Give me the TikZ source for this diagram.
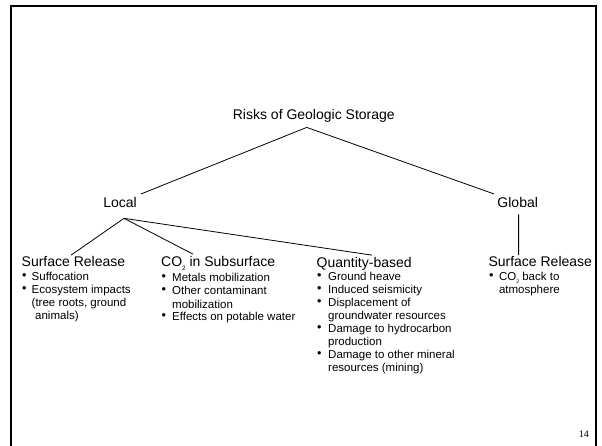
\documentclass[tikz,border=0pt]{standalone}
\usepackage{graphicx}
\usepackage{fontspec}
\setmainfont{Liberation Sans}
\newfontfamily\pagenumfont{Liberation Serif}
\newcommand{\bul}{\hspace{0.5pt}\raisebox{1.5pt}{\scalebox{1.1}{•}}}
\newcommand{\cotwo}{CO\raisebox{-0.25em}{\scalebox{0.45}{2}}}
\tikzset{
    title/.style={inner sep=0pt, anchor=base, font=\fontsize{14}{17}\selectfont},
    heading/.style={title, anchor=base west},
    itemlist/.style={inner sep=0pt, anchor=base west, font=\fontsize{11.5}{13}\selectfont},
    branch/.style={draw, line width=0.8pt},
    frame/.style={draw, line width=2pt}
}

\begin{document}
\begin{tikzpicture}[x=1pt, y=-1pt]
    \useasboundingbox (0,0) rectangle (602,446);
    \draw[frame] (11.3,446) -- (11.3,6) -- (595.7,6) -- (595.7,446);

    \node[title] (root) at (313.8,120) {Risks of Geologic Storage};
    \node[title] (local) at (120,208) {Local};
    \node[title] (global) at (517.7,208) {Global};

    \node[heading] (surf) at (21.5,267) {Surface Release};
    \node[heading] (sub) at (161,267) {\cotwo{} in Subsurface};
    \node[heading] (qty) at (316.5,267.5) {Quantity-based};
    \node[heading] (surfg) at (488.3,267) {Surface Release};

    \node[itemlist] (surflist) at (21.5,280.7) {\begin{tabular}[t]{@{}p{10pt}@{}l@{}}
        \bul & Suffocation\\
        \bul & Ecosystem impacts\\
             & (tree roots, ground\\
             & \hspace{3.5pt}animals)
    \end{tabular}};
    \node[itemlist] (sublist) at (161,282) {\begin{tabular}[t]{@{}p{11pt}@{}l@{}}
        \bul & Metals mobilization\\
        \bul & Other contaminant\\
             & mobilization\\
        \bul & Effects on potable water
    \end{tabular}};
    \node[itemlist] (qtylist) at (316.5,280.7) {\begin{tabular}[t]{@{}p{11.5pt}@{}l@{}}
        \bul & Ground heave\\
        \bul & Induced seismicity\\
        \bul & Displacement of\\
             & groundwater resources\\
        \bul & Damage to hydrocarbon\\
             & production\\
        \bul & Damage to other mineral\\
             & resources (mining)
    \end{tabular}};
    \node[itemlist] (surfglist) at (488.3,280.7) {\begin{tabular}[t]{@{}p{10.5pt}@{}l@{}}
        \bul & \cotwo{} back to\\
             & atmosphere
    \end{tabular}};

    \node[inner sep=0pt, anchor=base east, font=\pagenumfont\fontsize{10}{12}\selectfont] (pagenum) at (589,437) {14};

    % tree
    \draw[branch] ([shift={(21,-3.7)}]local.north) -- ([shift={(-7.1,4.3)}]root.south) -- ([shift={(-23.7,-3.7)}]global.north);
    \draw[branch] ([shift={(4,10)}]local.south) edge ([shift={(49.5,-1.5)}]surf.north west)
                  ([shift={(4,10)}]local.south) edge ([shift={(32,-2.5)}]sub.north west)
                  ([shift={(4,10)}]local.south) edge ([shift={(55.5,-2)}]qty.north west);
    \draw[branch] ([shift={(0.9,6)}]global.south) -- ([shift={(30.3,-1.5)}]surfg.north west);
\end{tikzpicture}
\end{document}
